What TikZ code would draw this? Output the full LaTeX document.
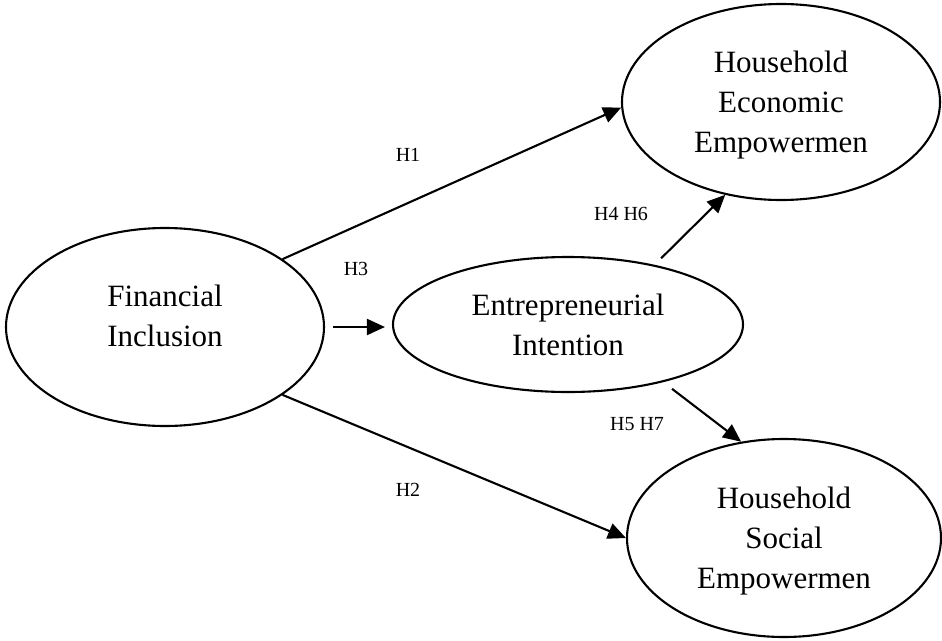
\documentclass[tikz,border=0pt]{standalone}
\usepackage{fontspec}
\setmainfont{Liberation Serif}
\usetikzlibrary{shapes.geometric,arrows.meta}

\begin{document}
\begin{tikzpicture}[x=1pt,y=-1pt,
  construct/.style={draw,ellipse,line width=2.1pt,inner sep=0pt,align=center,
    text depth=0pt,font=\fontsize{31}{40}\selectfont},
  hyp/.style={inner sep=0pt,font=\fontsize{20}{22}\selectfont},
  path/.style={line width=2.1pt,-{Triangle[length=18pt,width=16pt]}}]
\useasboundingbox (0,0) rectangle (942,640);

\node[construct,minimum width=318pt,minimum height=198pt,text depth=22pt] (fin) at (165,327) {Financial\\Inclusion};
\node[construct,minimum width=350pt,minimum height=135pt] (ent) at (568,324.5) {Entrepreneurial\\Intention};
\node[construct,minimum width=318pt,minimum height=196pt] (eco) at (781,102) {Household\\Economic\\Empowermen};
\node[construct,minimum width=314pt,minimum height=198pt] (soc) at (784,538) {Household\\Social\\Empowermen};

\draw[path] (fin.30) -- (eco.182);
\draw[path] (fin.-30) -- (soc.west);
\draw[path] ([xshift=8pt]fin.east) -- ([xshift=-7pt]fin.east -| ent.west);
\draw[path] ([yshift=8pt]ent.32) -- (eco.239);
\draw[path] ([yshift=-9pt]ent.-28) -- (soc.114);

\node[hyp] (h1) at (408,154.5) {H1};
\node[hyp] (h2) at (408,489.5) {H2};
\node[hyp] (h3) at (356,269) {H3};
\node[hyp] (h46) at (621,214) {H4 H6};
\node[hyp] (h57) at (637,424.5) {H5 H7};
\end{tikzpicture}
\end{document}
